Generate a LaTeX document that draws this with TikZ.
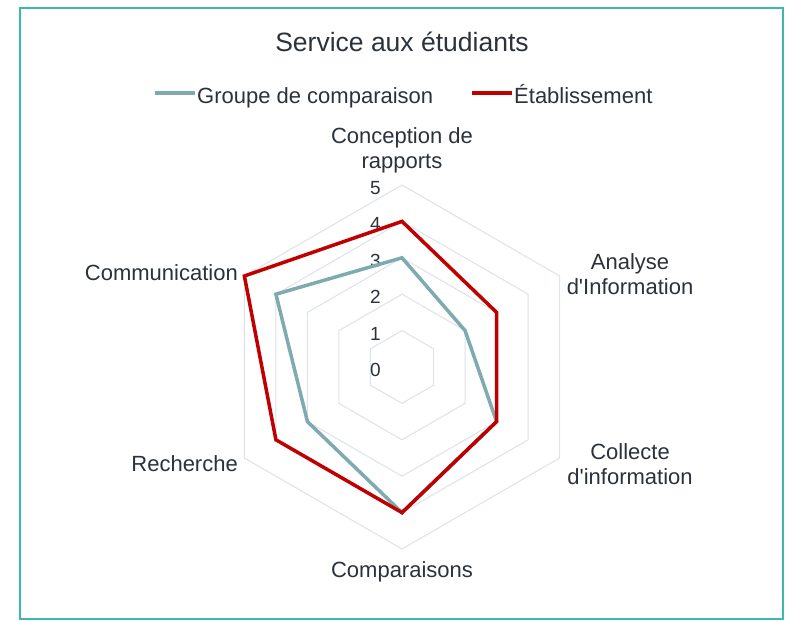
\documentclass[tikz,border=0pt]{standalone}
\usepackage{fontspec}
\setmainfont{Liberation Sans}
\definecolor{frameC}{HTML}{3DB8AF}
\definecolor{txtC}{HTML}{2B323B}
\definecolor{gridC}{HTML}{DCE3EA}
\definecolor{tealC}{HTML}{7EABAF}
\definecolor{redC}{HTML}{C00000}
\tikzset{
  lbl/.style={text=txtC, font=\fontsize{22}{25}\selectfont, inner sep=0pt, align=center},
  ticklbl/.style={text=txtC, font=\fontsize{19}{22}\selectfont, inner sep=0pt, anchor=east},
  gridline/.style={draw=gridC, line width=1pt},
  serA/.style={draw=tealC, line width=3.5pt, line join=miter},
  serB/.style={draw=redC, line width=3.5pt, line join=miter},
}
\begin{document}
\begin{tikzpicture}[x=1pt,y=1pt]
\useasboundingbox (0,0) rectangle (791,621);
\fill[white] (0,0) rectangle (791,621);
\draw[frameC, line width=2.5pt] (20,2) rectangle (783,613);
% title and legend
\node[lbl, font=\fontsize{26.5}{30}\selectfont] (title) at (402,579) {Service aux étudiants};
\coordinate (lgA1) at (155,528);
\coordinate (lgA2) at (195,528);
\coordinate (lgB1) at (472,528);
\coordinate (lgB2) at (512,528);
\draw[serA] (lgA1) -- (lgA2);
\draw[serB] (lgB1) -- (lgB2);
\node[lbl, anchor=base west] (legA) at (197,517) {Groupe de comparaison};
\node[lbl, anchor=base west] (legB) at (514,517) {Établissement};
% radar
\def\u{36.4}
\begin{scope}[shift={(402,254)}]
  \foreach \k in {1,...,5}{
    \draw[gridline] (90:\k*\u) -- (30:\k*\u) -- (-30:\k*\u) -- (-90:\k*\u) -- (-150:\k*\u) -- (150:\k*\u) -- cycle;
  }
  \foreach \k in {0,...,5}{
    \node[ticklbl] (t\k) at (-21,\k*\u-3) {\k};
  }
  % Groupe de comparaison: 3,2,3,4,3,4
  \coordinate (a1) at (90:3*\u);
  \coordinate (a2) at (30:2*\u);
  \coordinate (a3) at (-30:3*\u);
  \coordinate (a4) at (-90:4*\u);
  \coordinate (a5) at (-150:3*\u);
  \coordinate (a6) at (150:4*\u);
  \draw[serA] (a1) -- (a2) -- (a3) -- (a4) -- (a5) -- (a6) -- cycle;
  % Etablissement: 4,3,3,4,4,5
  \coordinate (b1) at (90:4*\u);
  \coordinate (b2) at (30:3*\u);
  \coordinate (b3) at (-30:3*\u);
  \coordinate (b4) at (-90:4*\u);
  \coordinate (b5) at (-150:4*\u);
  \coordinate (b6) at (150:5*\u);
  \draw[serB] (b1) -- (b2) -- (b3) -- (b4) -- (b5) -- (b6) -- cycle;
\end{scope}
% axis labels
\node[lbl] (conc) at (402,471) {Conception de\\rapports};
\node[lbl] (anal) at (630,346.5) {Analyse\\d\textquotesingle Information};
\node[lbl] (coll) at (630,157) {Collecte\\d\textquotesingle information};
\node[lbl] (comp) at (402,49) {Comparaisons};
\node[lbl, anchor=east] (rech) at (238,157) {Recherche};
\node[lbl, anchor=east] (comm) at (238,348) {Communication};
\end{tikzpicture}
\end{document}
